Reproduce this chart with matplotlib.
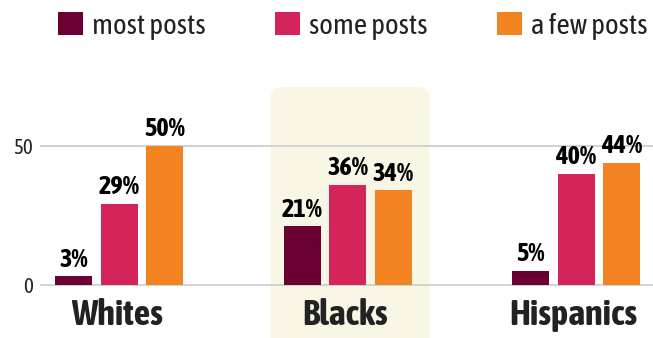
import matplotlib
matplotlib.use("Agg")
import matplotlib.pyplot as plt
from matplotlib import font_manager
from matplotlib.patches import FancyBboxPatch, Patch
import numpy as np

groups = ["Whites", "Blacks", "Hispanics"]
series = ["most posts", "some posts", "a few posts"]
most_posts = [3, 21, 5]
some_posts = [29, 36, 40]
few_posts = [50, 34, 44]
yticks = [0, 50]

colors = ["#6b0033", "#d4245a", "#f38320"]
BAND = "#faf6e5"
GRID = "#cfcfcf"
TEXT = "#222222"

# narrow sans for all text, whichever is installed first
names = {f.name for f in font_manager.fontManager.ttflist}
for cand in ["Asap Condensed", "Barlow Condensed", "Archivo Narrow", "DejaVu Sans"]:
    if cand in names:
        FONT = cand
        break
plt.rcParams["font.family"] = [FONT, "DejaVu Sans"]

W, H = 653, 338
fig = plt.figure(figsize=(W / 100, H / 100), dpi=100)
ax = fig.add_axes([40 / W, 0, 1 - 40 / W, 1])

# pixel geometry: group pitch 228.5 px, 2.774 px per percentage point
xpx, ypx = 228.5, 2.774
ax.set_xlim(-79 / xpx, (W - 119) / xpx)
ax.set_ylim(-53.3 / ypx, (H - 53.3) / ypx)

x = np.arange(len(groups))
offset = 45.5 / xpx
width = 37 / xpx
values = [most_posts, some_posts, few_posts]

# highlight behind the middle group
band_h = 200
rnd = 12 / xpx
band = FancyBboxPatch((x[1] - 77 / xpx, 71.3 - band_h), 159 / xpx, band_h,
                      boxstyle=f"round,pad=0,rounding_size={rnd}",
                      mutation_aspect=xpx / ypx, facecolor=BAND,
                      edgecolor="none", zorder=0)
ax.add_patch(band)

for i, (vals, col) in enumerate(zip(values, colors)):
    bars = ax.bar(x + (i - 1) * offset, vals, width, color=col, zorder=3)
    for b, v in zip(bars, vals):
        ax.annotate(f"{v}%", (b.get_x() + b.get_width() / 2, v),
                    xytext=(0, 3.5), textcoords="offset points",
                    ha="center", va="bottom", fontsize=19,
                    fontweight="bold", color="black", zorder=4)

for xi, g in zip(x, groups):
    ax.text(xi - 0.01, -14.6, g, ha="center", va="baseline", fontsize=26,
            fontweight="bold", color=TEXT)

ax.set_yticks(yticks)
ax.set_xticks([])
ax.tick_params(axis="y", length=0, pad=5, labelsize=15, labelcolor=TEXT)
ax.grid(axis="y", color=GRID, linewidth=1.3, zorder=1)
ax.set_axisbelow(True)
for s in ax.spines.values():
    s.set_visible(False)
ax.patch.set_alpha(0)

handles = [Patch(facecolor=c, edgecolor="none") for c in colors]
fig.legend(handles, series, loc="upper left",
           bbox_to_anchor=(58 / W, 1 - 12 / H), ncol=3, frameon=False,
           fontsize=21, handlelength=0.85, handleheight=0.85,
           handletextpad=0.3, columnspacing=2.4, borderpad=0,
           borderaxespad=0, labelcolor=TEXT)

fig.savefig("out.png", dpi=100)
